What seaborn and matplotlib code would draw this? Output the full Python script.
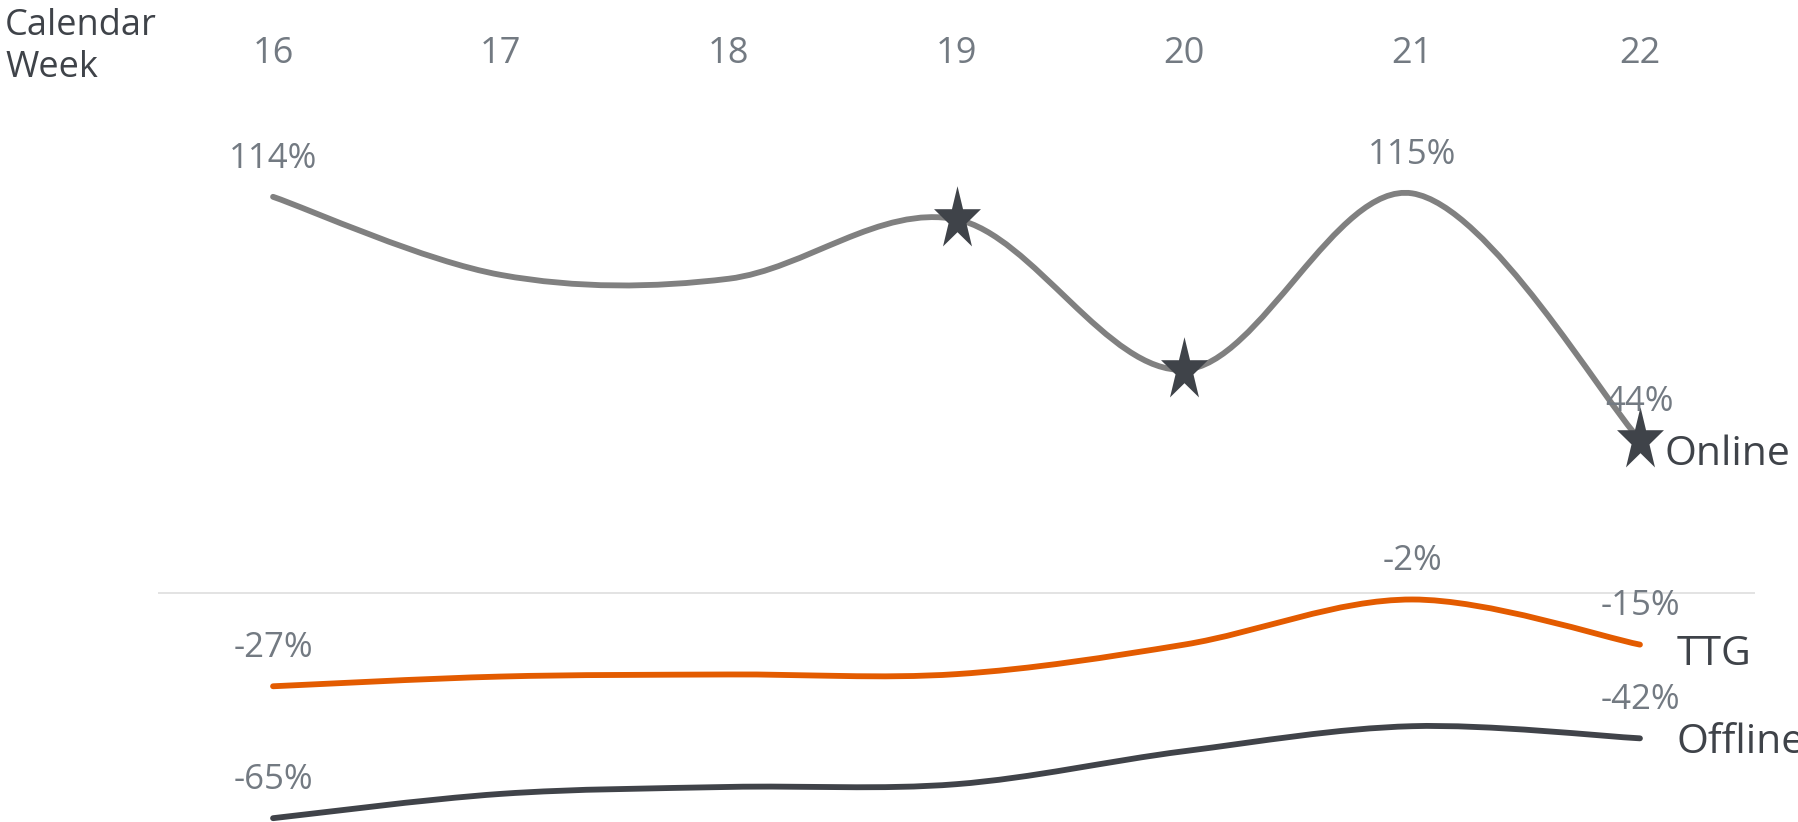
import numpy as np
import pandas as pd
import matplotlib
matplotlib.use("Agg")
import matplotlib.pyplot as plt
from matplotlib.path import Path
from matplotlib.patches import PathPatch
import seaborn as sns

# data
weeks = [16, 17, 18, 19, 20, 21, 22]
online = [114, 91.5, 90.4, 107.5, 64.2, 115, 44]
ttg = [-27, -24.2, -23.6, -23.5, -15.0, -2, -15]
offline = [-65, -58, -56, -55.2, -45.7, -38.5, -42]
series_names = ["Online", "TTG", "Offline"]
labelled_weeks = {"Online": [16, 21, 22], "TTG": [16, 21, 22], "Offline": [16, 22]}
star_weeks = [19, 20, 22]

sns.set_theme(style="white")
plt.rcParams["font.family"] = ["Open Sans", "DejaVu Sans"]

colors = {"Online": "#808080", "TTG": "#e35b00", "Offline": "#404349"}
label_col = "#737a82"
dark = "#3f4349"


def smooth_path(xs, ys):
    # catmull-rom style bezier through the points (like a smoothed office line)
    pts = np.column_stack([xs, ys]).astype(float)
    verts = [pts[0]]
    codes = [Path.MOVETO]
    n = len(pts)
    for i in range(n - 1):
        p0 = pts[i - 1] if i > 0 else pts[i]
        p1 = pts[i]
        p2 = pts[i + 1]
        p3 = pts[i + 2] if i + 2 < n else pts[i + 1]
        c1 = p1 + (p2 - p0) / 6
        c2 = p2 - (p3 - p1) / 6
        verts += [c1, c2, p2]
        codes += [Path.CURVE4] * 3
    return Path(verts, codes)


fig = plt.figure(figsize=(17.98, 8.22), dpi=100)
ax = fig.add_axes([158 / 1798, 0, 1597 / 1798, 1])
ax.set_xlim(15.495, 22.505)
ax.set_ylim(-66.1, 170.7)
ax.axis("off")

ax.axhline(0, color="#e3e3e3", lw=1.4, zorder=1)

values = {"Online": online, "TTG": ttg, "Offline": offline}
for name in series_names:
    vals = values[name]
    ax.add_patch(PathPatch(smooth_path(weeks, vals), fill=False, edgecolor=colors[name],
                           lw=4.2, capstyle="round", zorder=2))
    for w in labelled_weeks[name]:
        v = vals[weeks.index(w)]
        ax.annotate(f"{v:.0f}%", (w, v), xytext=(0, 21), textcoords="offset points",
                    ha="center", va="baseline", fontsize=25, color=label_col, zorder=4)

# series names at the line ends
name_offsets = {"Online": (18, -18), "TTG": (26.6, -14.4), "Offline": (26.6, -10.8)}
for name in series_names:
    ax.annotate(name, (weeks[-1], values[name][-1]), xytext=name_offsets[name],
                textcoords="offset points", ha="left", va="baseline",
                fontsize=29.5, color=dark, zorder=4)

# stretched star marker
ang = np.pi / 2 + np.arange(10) * np.pi / 5
rad = np.where(np.arange(10) % 2 == 0, 1.0, 0.382)
star = list(zip(rad * np.cos(ang), 1.35 * rad * np.sin(ang)))
stars = pd.DataFrame({"week": star_weeks,
                      "value": [online[weeks.index(w)] for w in star_weeks]})
sns.scatterplot(data=stars, x="week", y="value", marker=star, s=2300,
                color=dark, linewidth=0, ax=ax, zorder=3, legend=False)

# week header
for w in weeks:
    ax.text(w, 1 - 63 / 822, str(w), transform=ax.get_xaxis_transform(),
            ha="center", va="baseline", fontsize=26, color=label_col)
fig.text(5 / 1798, 1 - 35 / 822, "Calendar", ha="left", va="baseline", fontsize=26, color=dark)
fig.text(5 / 1798, 1 - 77 / 822, "Week", ha="left", va="baseline", fontsize=26, color=dark)

fig.savefig("out.png", dpi=100, facecolor="white")
